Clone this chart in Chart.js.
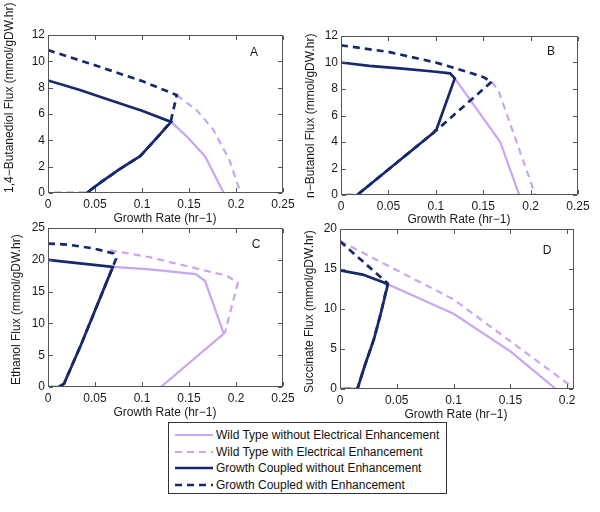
<!DOCTYPE html>
<html>
<head>
<meta charset="utf-8">
<script src="https://cdn.jsdelivr.net/npm/chart.js@4.4.1/dist/chart.umd.min.js"></script>
<style>
  html, body { margin: 0; padding: 0; background: #fff; }
  #wrap { position: relative; width: 600px; height: 512px; overflow: hidden; }
  #wrap canvas { position: absolute; left: 0; top: 0; }
  .box { position: absolute; border: 1px solid #555; box-sizing: border-box; pointer-events: none; }
  .tk { position: absolute; background: #555; pointer-events: none; }
  #legend {
    position: absolute; left: 168px; top: 422px; width: 277px; height: 70px;
    border: 1px solid #333; background: #fff;
    font: 12px "Liberation Sans", Arial, sans-serif; color: #111;
  }
  #legend .row { position: absolute; left: 0; height: 16px; line-height: 16px; white-space: nowrap; }
  #legend svg { position: absolute; left: 6px; top: 0; }
  #legend span { position: absolute; left: 47px; top: 0; }
</style>
</head>
<body>
<div id="wrap">
  <canvas id="pA" width="600" height="512"></canvas>
  <canvas id="pB" width="600" height="512"></canvas>
  <canvas id="pC" width="600" height="512"></canvas>
  <canvas id="pD" width="600" height="512"></canvas>
  <div id="frames"></div>
  <div id="legend"></div>
</div>
<script>
// Four flux-vs-growth-rate envelopes (A: 1,4-butanediol, B: n-butanol,
// C: ethanol, D: succinate).

// --- panel A: 1,4-Butanediol ---
const aWtX  = [0.131, 0.149, 0.167, 0.187, 0];
const aWtY  = [5.4, 4.2, 2.8, 0, 0];
const aWtEX = [0.137, 0.158, 0.176, 0.193, 0.205];
const aWtEY = [7.44, 6.3, 4.8, 2.5, 0];
const aGcX  = [0, 0.034, 0.06, 0.1, 0.131, 0.116, 0.098, 0.075, 0.055, 0.041];
const aGcY  = [8.55, 7.82, 7.2, 6.25, 5.4, 4.2, 2.8, 1.75, 0.75, 0];
const aGcEX = [0, 0.05, 0.1, 0.137, 0.1305, 0.116, 0.098, 0.075, 0.055, 0.041, 0];
const aGcEY = [10.85, 9.7, 8.5, 7.44, 5.4, 4.2, 2.8, 1.75, 0.75, 0, 0];

// --- panel B: n-Butanol ---
const bWtX  = [0.12, 0.168, 0.188, 0];
const bWtY  = [8.8, 4.0, 0, 0];
const bWtEX = [0.159, 0.166, 0.182, 0.205];
const bWtEY = [8.55, 7.9, 4.65, 0];
const bGcX  = [0, 0.03, 0.062, 0.1, 0.115, 0.12, 0.101, 0.0975, 0.05, 0.017];
const bGcY  = [10.0, 9.75, 9.56, 9.3, 9.18, 8.8, 5.0, 4.7, 1.93, 0];
const bGcEX = [0, 0.05, 0.1, 0.133, 0.15, 0.159, 0.101, 0.0975, 0.05, 0.017, 0];
const bGcEY = [11.3, 10.8, 10.0, 9.3, 8.9, 8.55, 4.9, 4.7, 1.93, 0, 0];

// --- panel C: Ethanol ---
const cWtX  = [0.069, 0.1085, 0.157, 0.167, 0.187, 0.12, 0];
const cWtY  = [18.9, 18.5, 17.75, 16.7, 8.4, 0, 0];
const cWtEX = [0.066, 0.1085, 0.19, 0.202, 0.188];
const cWtEY = [21.5, 20.4, 17.5, 16.4, 8.4];
const cGcX  = [0, 0.024, 0.069, 0.035, 0.017, 0.011];
const cGcY  = [20.0, 19.6, 18.9, 6.6, 0.5, 0];
const cGcEX = [0, 0.02, 0.048, 0.0697, 0.0725, 0.069, 0.035, 0.017, 0.011, 0];
const cGcEY = [22.55, 22.4, 21.8, 21.0, 20.2, 18.9, 6.6, 0.5, 0, 0];

// --- panel D: Succinate ---
const dWtX  = [0.042, 0.1, 0.15, 0.19, 0];
const dWtY  = [13.1, 9.4, 4.7, 0, 0];
const dWtEX = [0, 0.1, 0.204];
const dWtEY = [18.5, 11.2, 0.3];
const dGcX  = [0, 0.02, 0.0397, 0.042, 0.036, 0.03, 0.022, 0.0153, 0];
const dGcY  = [14.83, 14.3, 13.25, 13.0, 9.5, 6.3, 3.0, 0, 0];
const dGcEX = [0, 0.042, 0.036, 0.03, 0.022, 0.0153, 0];
const dGcEY = [18.46, 13.2, 9.5, 6.3, 3.0, 0, 0];

// tick values
const xTicksWide = [0, 0.05, 0.1, 0.15, 0.2, 0.25];
const xTicksD    = [0, 0.05, 0.1, 0.15, 0.2];
const yTicks12   = [0, 2, 4, 6, 8, 10, 12];
const yTicks25   = [0, 5, 10, 15, 20, 25];
const yTicks20   = [0, 5, 10, 15, 20];

const legendLabels = [
  'Wild Type without Electrical Enhancement',
  'Wild Type with Electrical Enhancement',
  'Growth Coupled without Enhancement',
  'Growth Coupled with Enhancement',
];

const DARK = '#16286e';
const LIGHT = '#c9a6f5';
const TXT = '#1a1a1a';
const FONT = '"Liberation Sans", Arial, sans-serif';
const Y_W = 40;   // fixed y-axis box width
const X_H = 20;   // fixed x-axis box height

// legend order == dataset styles
const STYLES = [
  { color: LIGHT, dash: false, width: 2.2, order: 3 },
  { color: LIGHT, dash: true,  width: 2.2, order: 2 },
  { color: DARK,  dash: false, width: 2.7, order: 1 },
  { color: DARK,  dash: true,  width: 2.7, order: 0 },
];

// axis titles and panel letter, drawn on the chart canvas
const labels = {
  id: 'labels',
  afterDraw(chart, args, o) {
    const ctx = chart.ctx;
    ctx.save();
    ctx.fillStyle = TXT;
    ctx.font = '12px ' + FONT;
    ctx.textBaseline = 'middle';
    ctx.textAlign = 'center';
    ctx.fillText('Growth Rate (hr\u22121)', o.xTitle[0], o.xTitle[1]);
    ctx.fillText(o.letter, o.letterAt[0], o.letterAt[1]);
    ctx.translate(o.yTitle[0], o.yTitle[1]);
    ctx.rotate(-Math.PI / 2);
    ctx.textAlign = 'left';
    ctx.fillText(o.yLabel, 0, 0);
    ctx.restore();
  },
};

// axes box + inward ticks as an HTML overlay, placed from the chart's scales
const frames = document.getElementById('frames');
function addDiv(cls, l, t, w, h) {
  const d = document.createElement('div');
  d.className = cls;
  d.style.left = l + 'px'; d.style.top = t + 'px';
  d.style.width = w + 'px'; d.style.height = h + 'px';
  frames.appendChild(d);
}
function drawBox(chart, p) {
  const a = chart.chartArea;
  const L = Math.round(isFinite(a.left) ? a.left : p.box[0]);
  const R = Math.round(isFinite(a.right) ? a.right : p.box[1]);
  const T = Math.round(isFinite(a.top) ? a.top : p.box[2]);
  const B = Math.round(isFinite(a.bottom) ? a.bottom : p.box[3]);
  addDiv('box', L, T, R - L, B - T);
  const x = chart.scales.x, y = chart.scales.y;
  p.xTicks.forEach(v => {
    const px = Math.round(x.getPixelForValue(v));
    if (!isFinite(px)) return;
    addDiv('tk', px, B - 5, 1, 4);
    addDiv('tk', px, T + 1, 1, 4);
  });
  p.yTicks.forEach(v => {
    const py = Math.round(y.getPixelForValue(v));
    if (!isFinite(py)) return;
    addDiv('tk', L + 1, py, 4, 1);
    addDiv('tk', R - 5, py, 4, 1);
  });
}

function tickOpts(step) {
  return {
    stepSize: step, includeBounds: false, autoSkip: false, maxRotation: 0,
    padding: 4, color: TXT, font: { family: FONT, size: 12 },
    callback: v => String(+v.toFixed(3)),
  };
}

function panel(id, p) {
  const datasets = p.series.map((s, i) => ({
    data: s[0].map((xv, j) => ({ x: xv, y: s[1][j] })),
    borderColor: STYLES[i].color,
    borderWidth: STYLES[i].width,
    borderDash: STYLES[i].dash ? [7, 5] : [],
    order: STYLES[i].order,
    pointRadius: 0,
    tension: 0,
    fill: false,
    showLine: true,
  }));
  const noGrid = { display: false, drawTicks: false, drawOnChartArea: false };
  const chart = new Chart(document.getElementById(id), {
    type: 'line',
    data: { datasets },
    options: {
      responsive: false,
      animation: false,
      devicePixelRatio: 1,
      layout: {
        padding: {
          left: p.box[0] - Y_W, right: 600 - p.box[1],
          top: p.box[2], bottom: 512 - p.box[3] - X_H,
        },
      },
      plugins: {
        legend: { display: false },
        tooltip: { enabled: false },
        labels: p.text,
      },
      scales: {
        x: {
          type: 'linear', min: 0, max: p.xMax,
          afterFit: s => { s.height = X_H; },
          grid: noGrid, border: { display: false },
          ticks: tickOpts(0.05),
        },
        y: {
          type: 'linear', min: 0, max: p.yMax,
          afterFit: s => { s.width = Y_W; },
          grid: noGrid, border: { display: false },
          ticks: Object.assign(tickOpts(p.yStep), { padding: 3 }),
        },
      },
    },
    plugins: [labels],
  });
  drawBox(chart, p);
}

panel('pA', {
  box: [48, 283, 35, 193], xMax: 0.25, yMax: 12, yStep: 2,
  xTicks: xTicksWide, yTicks: yTicks12,
  series: [[aWtX, aWtY], [aWtEX, aWtEY], [aGcX, aGcY], [aGcEX, aGcEY]],
  text: { xTitle: [165, 219], yTitle: [10, 193], letter: 'A', letterAt: [254, 53],
          yLabel: '1,4\u2212Butanediol Flux (mmol/gDW.hr)' },
});
panel('pB', {
  box: [341, 578, 36, 195], xMax: 0.25, yMax: 12, yStep: 2,
  xTicks: xTicksWide, yTicks: yTicks12,
  series: [[bWtX, bWtY], [bWtEX, bWtEY], [bGcX, bGcY], [bGcEX, bGcEY]],
  text: { xTitle: [459, 220], yTitle: [311, 198], letter: 'B', letterAt: [551, 52],
          yLabel: 'n\u2212Butanol Flux (mmol/gDW.hr)' },
});
panel('pC', {
  box: [48, 283, 228, 387], xMax: 0.25, yMax: 25, yStep: 5,
  xTicks: xTicksWide, yTicks: yTicks25,
  series: [[cWtX, cWtY], [cWtEX, cWtEY], [cGcX, cGcY], [cGcEX, cGcEY]],
  text: { xTitle: [165, 413], yTitle: [17, 385], letter: 'C', letterAt: [256, 245],
          yLabel: 'Ethanol Flux (mmol/gDW.hr)' },
});
panel('pD', {
  box: [340, 574, 229, 389], xMax: 0.206, yMax: 20, yStep: 5,
  xTicks: xTicksD, yTicks: yTicks20,
  series: [[dWtX, dWtY], [dWtEX, dWtEY], [dGcX, dGcY], [dGcEX, dGcEY]],
  text: { xTitle: [456, 415], yTitle: [310, 393], letter: 'D', letterAt: [547, 251],
          yLabel: 'Succinate Flux (mmol/gDW.hr)' },
});

// legend box
const leg = document.getElementById('legend');
const rowTops = [4, 21, 37, 54];
legendLabels.forEach((label, i) => {
  const st = STYLES[i];
  const row = document.createElement('div');
  row.className = 'row';
  row.style.top = rowTops[i] + 'px';
  row.innerHTML =
    '<svg width="38" height="16"><line x1="0" y1="8" x2="38" y2="8" stroke="' + st.color +
    '" stroke-width="' + st.width + '"' + (st.dash ? ' stroke-dasharray="7 5"' : '') + '/></svg>' +
    '<span>' + label + '</span>';
  leg.appendChild(row);
});
</script>
</body>
</html>
